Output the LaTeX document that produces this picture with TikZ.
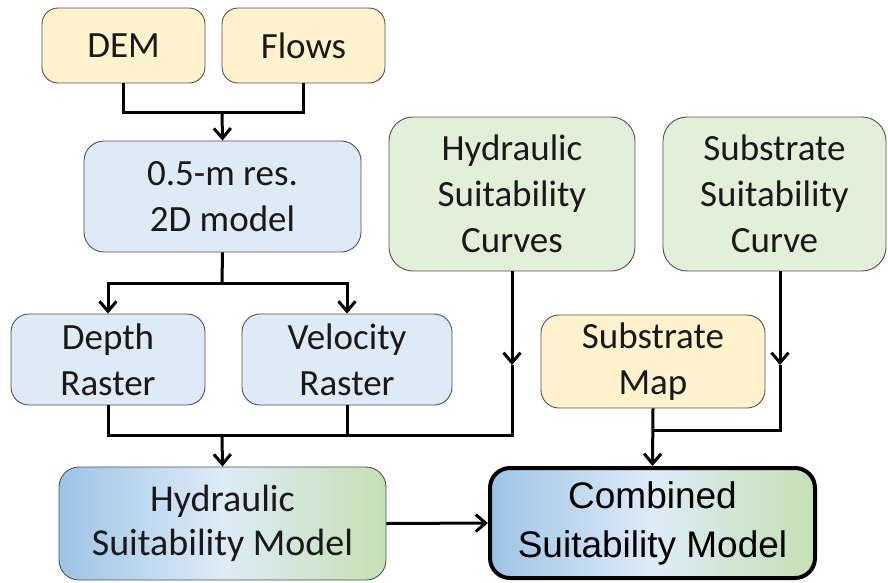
\documentclass[tikz,border=0pt]{standalone}
\usepackage{fontspec}
\setmainfont{Carlito}
\newfontfamily\combfont{Liberation Sans}
\usetikzlibrary{arrows.meta,shadings}
\definecolor{yfill}{HTML}{FFF2CC}
\definecolor{bfill}{HTML}{DEEBF7}
\definecolor{gfill}{HTML}{E2F0D9}
\definecolor{gradb}{HTML}{9DC3E6}
\definecolor{gradm}{HTML}{DEEBF7}
\definecolor{gradg}{HTML}{C5E0B4}
\definecolor{bord}{HTML}{505050}
\tikzset{
  box/.style={draw=bord, line width=0.9pt, rounded corners=16pt, align=center,
    inner sep=0pt, font=\fontsize{37}{46}\selectfont, text=black!90},
  ybox/.style={box, fill=yfill},
  bbox/.style={box, fill=bfill},
  gbox/.style={box, fill=gfill},
  gradbox/.style={box, left color=gradb, right color=gradg, middle color=gradm},
  conn/.style={line width=3pt, draw=black},
  arr/.style={conn, -{Straight Barb[length=10pt,width=17pt]}},
}
\begin{document}
\begin{tikzpicture}[x=1pt,y=-1pt]
\useasboundingbox (0,0) rectangle (888,582);
\node[ybox, minimum width=163pt, minimum height=75pt] (dem) at (123.5,45.5) {DEM};
\node[ybox, minimum width=163pt, minimum height=75pt] (flows) at (303.5,45.5) {Flows};
\node[bbox, minimum width=277pt, minimum height=111pt, rounded corners=20pt] (model) at (222.5,196.5) {0.5-m res.\\2D model};
\node[bbox, minimum width=194pt, minimum height=91pt, rounded corners=18pt] (depth) at (108,359.5) {Depth\\Raster};
\node[bbox, minimum width=210pt, minimum height=91pt, rounded corners=18pt] (vel) at (347,359.5) {Velocity\\Raster};
\node[gbox, minimum width=246pt, minimum height=154pt, rounded corners=24pt] (hcurve) at (512,194) {Hydraulic\\Suitability\\Curves};
\node[gbox, minimum width=223pt, minimum height=154pt, rounded corners=24pt] (scurve) at (774.5,194) {Substrate\\Suitability\\Curve};
\node[ybox, minimum width=224pt, minimum height=93pt, rounded corners=18pt] (smap) at (653,361.5) {Substrate\\Map};
\node[gradbox, minimum width=327pt, minimum height=113pt, rounded corners=20pt, font=\fontsize{38}{44}\selectfont] (hmodel) at (222.5,523.5) {Hydraulic\\Suitability Model};
\node[gradbox, draw=black, line width=4pt, minimum width=325pt, minimum height=110pt, rounded corners=20pt, font=\combfont\fontsize{37}{49}\selectfont, text=black] (comb) at (652.5,523) {Combined\\Suitability Model};

% DEM + Flows -> model
\coordinate (j1) at (222,112);
\draw[conn] (dem.south) |- (j1) -| (flows.south);
\draw[arr] (j1) -- (model.north);
% model -> depth, velocity
\coordinate (j2) at (222,283);
\draw[conn] (model.south) -- (j2);
\draw[arr] (j2) -| (depth.north);
\draw[arr] (j2) -| (vel.north);
% depth, velocity, curves -> hydraulic model
\coordinate (j3) at (222,435);
\coordinate (hcA) at (512,365);
\coordinate (hcB) at (512,435);
\draw[arr] (hcurve.south) -- (hcA);
\draw[conn] (depth.south) |- (j3) -- (hcB) -- (hcA);
\draw[conn] (vel.south) -- (vel.south |- j3);
\draw[arr] (j3) -- (hmodel.north);
% substrate curve + map -> combined
\coordinate (scS) at ([xshift=5.5pt]scurve.south);
\coordinate (scA) at (780,365);
\coordinate (scB) at (780,430);
\coordinate (j4) at (653,430);
\draw[arr] (scS) -- (scA);
\draw[conn] (scA) -- (scB) -- (j4);
\draw[arr] (smap.south) -- (comb.north);
% hydraulic model -> combined
\draw[arr] (hmodel.east) -- (comb.west);
\end{tikzpicture}
\end{document}
